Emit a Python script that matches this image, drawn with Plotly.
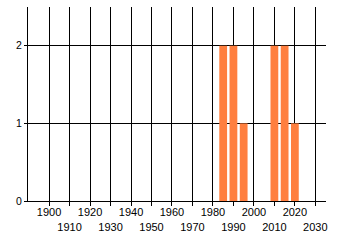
import plotly.graph_objects as go

years = [1985, 1990, 1995, 2010, 2015, 2020]
counts = [2, 2, 1, 2, 2, 1]

tick_years = list(range(1900, 2031, 10))
tick_labels = [str(y) if i % 2 == 0 else "<br>" + str(y) for i, y in enumerate(tick_years)]
y_ticks = [0, 1, 2]

fig = go.Figure()
fig.add_trace(go.Bar(x=years, y=counts, width=3.8, marker=dict(color="#FF7F3F", line=dict(width=0)),
                     hoverinfo="x+y"))

font = dict(family="Liberation Sans, Arial, sans-serif", size=10.5, color="#000000")
xfont = dict(family="Liberation Sans, Arial, sans-serif", size=11, color="#000000")
fig.update_layout(
    width=340, height=245,
    margin=dict(l=28, r=14, t=7, b=44),
    plot_bgcolor="white", paper_bgcolor="white",
    showlegend=False,
    font=font,
    xaxis=dict(range=[1889.7, 2035.2], tickvals=tick_years, ticktext=tick_labels,
               showgrid=True, gridcolor="black", gridwidth=1,
               showline=True, linecolor="black", linewidth=1,
               ticks="outside", ticklen=4, tickcolor="black", tickangle=0,
               ticklabelstandoff=-3,
               zeroline=False, tickfont=xfont),
    yaxis=dict(range=[0, 2.5], tickvals=y_ticks,
               showgrid=True, gridcolor="black", gridwidth=1,
               showline=True, linecolor="black", linewidth=1,
               ticks="outside", ticklen=3, tickcolor="black",
               zeroline=False, tickfont=font),
)
fig.write_html("out.html")
